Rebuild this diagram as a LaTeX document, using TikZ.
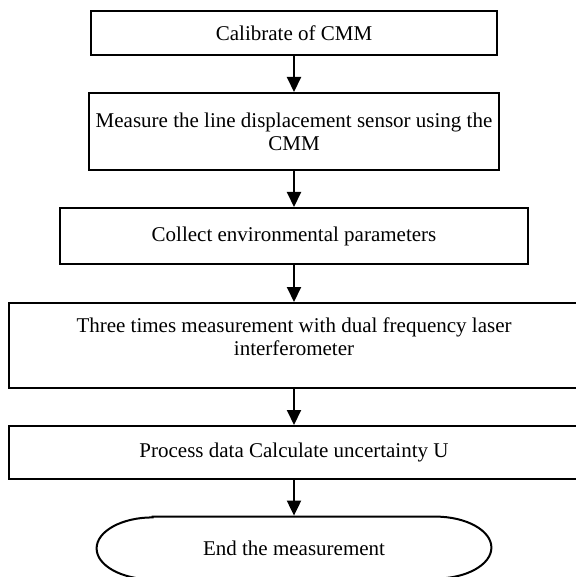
\documentclass[tikz,border=0pt]{standalone}
\usepackage{fontspec}
\setmainfont{Liberation Serif}
\usepackage{tikz}
\usetikzlibrary{positioning,arrows.meta,calc}

\begin{document}
\begin{tikzpicture}[x=0.5pt, y=0.5pt, font=\fontsize{10.5}{11.5}\selectfont,
  sb/.style={draw=black, line width=1pt, fill=white, align=center, outer sep=0pt},
  ar/.style={-{Triangle[length=7.5pt, width=7pt]}, line width=1pt, shorten >=0.5pt}]
\useasboundingbox (0,0) rectangle (576,-577);
\node[sb, minimum width=203pt, minimum height=22pt] (calib) at (294,-33) {Calibrate of CMM};
\node[sb, minimum width=203pt, minimum height=38.5pt] (sensor) at (294,-131.5) {Measure the line displacement sensor using the\\CMM};
\node[sb, minimum width=234pt, minimum height=28pt] (env) at (294,-236) {Collect environmental parameters};
\node[sb, minimum width=285pt, minimum height=42.5pt] (laser) at (294,-345.5) {Three times measurement with dual frequency laser\\interferometer\\[-3pt]};
\node[sb, minimum width=285pt, minimum height=26.5pt] (proc) at (294,-452.5) {Process data Calculate uncertainty U};
\node[minimum width=197pt, minimum height=31pt, inner sep=0pt] (endm) at (294,-548) {End the measurement};
\draw[line width=1pt] ([xshift=28pt]endm.north west) -- ([xshift=-28pt]endm.north east)
  arc[start angle=90, end angle=-90, x radius=28pt, y radius=15.5pt]
  -- ([xshift=28pt]endm.south west)
  arc[start angle=270, end angle=90, x radius=28pt, y radius=15.5pt] -- cycle;
\draw[ar] (calib) -- (sensor);
\draw[ar] (sensor) -- (env);
\draw[ar] (env) -- (laser);
\draw[ar] (laser) -- (proc);
\draw[ar] (proc) -- (endm);
\end{tikzpicture}
\end{document}
